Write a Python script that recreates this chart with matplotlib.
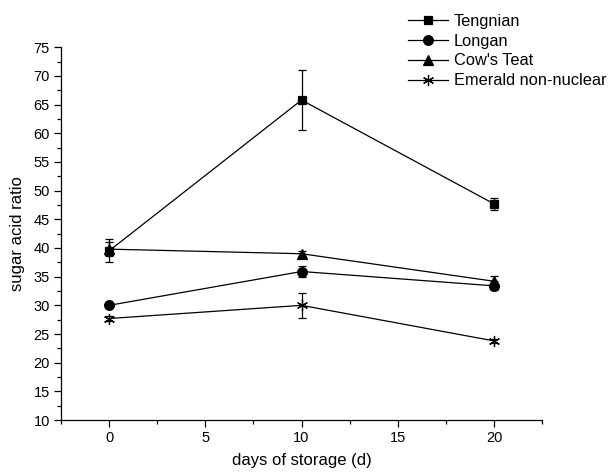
import matplotlib
matplotlib.use("Agg")
import matplotlib.pyplot as plt
from matplotlib.lines import Line2D
from matplotlib.ticker import MultipleLocator

plt.rcParams['font.family'] = ['Liberation Sans', 'DejaVu Sans']

# storage days
days = [0, 10, 20]

# sugar/acid ratio per variety, with error bars
tengnian = [39.5, 65.8, 47.7]
tengnian_err = [2.0, 5.3, 1.0]
longan = [30.0, 35.9, 33.4]
longan_err = [0.3, 0.9, 0.8]
cows_teat = [39.8, 39.0, 34.2]
cows_teat_err = [1.2, 0.4, 1.0]
emerald = [27.7, 30.0, 23.8]
emerald_err = [0.5, 2.2, 0.3]

names = ["Tengnian", "Longan", "Cow's Teat", "Emerald non-nuclear"]
markers = ["s", "o", "^", (6, 2, 0)]
sizes = [6, 7, 7, 8]

fig = plt.figure(figsize=(6.16, 4.73), dpi=100)
ax = fig.add_axes([0.099, 0.112, 0.781, 0.788])

series = [(tengnian, tengnian_err), (longan, longan_err),
          (cows_teat, cows_teat_err), (emerald, emerald_err)]
handles = []
for (vals, err), name, m, ms in zip(series, names, markers, sizes):
    ax.errorbar(days, vals, yerr=err, color="black", lw=0.9, marker=m,
                ms=ms, mew=0.9, capsize=3, elinewidth=0.9, capthick=0.9)
    handles.append(Line2D([], [], color="black", lw=0.9, marker=m,
                          ms=ms, mew=0.9, label=name))

ax.set_xlim(-2.5, 22.5)
ax.set_ylim(10, 75)
ax.xaxis.set_major_locator(MultipleLocator(5))
ax.xaxis.set_minor_locator(MultipleLocator(2.5))
ax.yaxis.set_major_locator(MultipleLocator(5))
ax.yaxis.set_minor_locator(MultipleLocator(2.5))
ax.tick_params(which="major", direction="out", length=5, width=0.9,
               labelsize=10.5, pad=3)
ax.tick_params(which="minor", direction="out", length=3, width=0.9)
ax.spines["top"].set_visible(False)
ax.spines["right"].set_visible(False)
ax.spines["left"].set_linewidth(0.9)
ax.spines["bottom"].set_linewidth(0.9)

ax.set_xlabel("days of storage (d)", fontsize=12, labelpad=6)
ax.set_ylabel("sugar acid ratio", fontsize=12, labelpad=6)

fig.legend(handles=handles, loc="upper left", bbox_to_anchor=(0.652, 0.985),
           frameon=False, fontsize=11.8, handlelength=2.4, handletextpad=0.4,
           labelspacing=0.3, borderaxespad=0)

fig.savefig("out.png", dpi=100)
